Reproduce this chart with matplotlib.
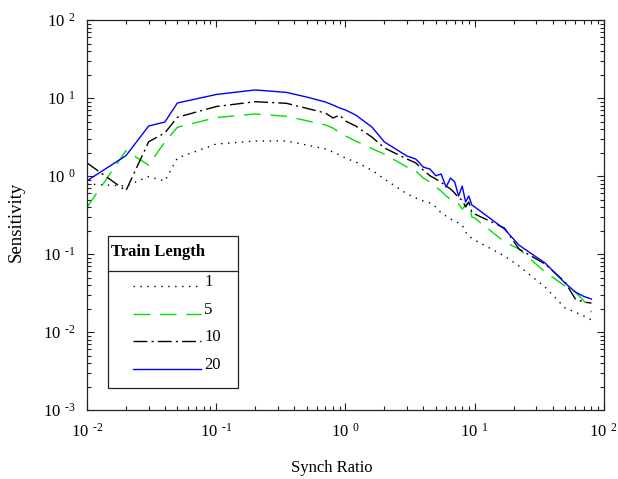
import matplotlib
matplotlib.use("Agg")
import matplotlib.pyplot as plt
from matplotlib.patches import Rectangle
from matplotlib.lines import Line2D
from matplotlib.ticker import LogLocator, FixedLocator, NullFormatter

plt.rcParams['font.family'] = ['Liberation Serif', 'DejaVu Serif']
plt.rcParams['mathtext.fontset'] = 'custom'
plt.rcParams['mathtext.rm'] = 'Liberation Serif'
plt.rcParams['mathtext.it'] = 'Liberation Serif:italic'
plt.rcParams['mathtext.bf'] = 'Liberation Serif:bold'

# ---- data ----
synch_ratio = [0.01, 0.02, 0.03, 0.04, 0.05, 0.1, 0.2, 0.35, 0.5, 0.7, 0.8, 0.9,
               1.0, 1.2, 1.6, 2.0, 3.0, 3.5, 4.0, 4.5, 5.0, 5.5, 6.0, 6.5, 7.0,
               7.5, 8.0, 8.5, 9.0, 9.5, 10, 17, 22, 35, 50, 60, 70, 80]

sens_1 = [0.790, 0.744, 0.985, 0.863, 1.70, 2.57, 2.81, 2.81, 2.50, 2.22, 2.03, 1.86,
          1.70, 1.51, 1.19, 0.915, 0.588, 0.522, 0.478, 0.451, 0.401, 0.336, 0.307,
          0.281, 0.265, 0.250, 0.235, 0.191, 0.170, 0.160, 0.151, 0.0943, 0.0702,
          0.0377, 0.0203, 0.0180, 0.0160, 0.0143]

sens_5 = [0.397, 2.11, 1.38, 2.73, 4.21, 5.62, 6.24, 5.83, 5.12, 4.51, 4.12, 3.61,
          3.26, 2.81, 2.25, 1.91, 1.30, 1.16, 0.943, 0.838, 0.723, 0.642, 0.554,
          0.507, 0.478, 0.438, 0.377, 0.425, 0.464, 0.298, 0.289, 0.143, 0.116,
          0.0588, 0.0389, 0.0326, 0.0250, 0.0180]

sens_10 = [1.47, 0.648, 2.75, 3.56, 5.66, 7.78, 8.97, 8.55, 7.38, 6.42, 5.54, 6.05,
           5.07, 4.38, 3.16, 2.29, 1.65, 1.47, 1.19, 1.01, 0.915, 0.830, 0.744,
           0.681, 0.605, 0.522, 0.492, 0.401, 0.464, 0.345, 0.326, 0.215, 0.116,
           0.0744, 0.0438, 0.0265, 0.0242, 0.0235]

sens_20 = [0.870, 1.82, 4.38, 4.92, 8.63, 11.1, 12.7, 11.8, 10.3, 8.89, 8.13, 7.45,
           7.02, 6.05, 4.25, 2.73, 1.80, 1.65, 1.30, 1.23, 1.01, 1.06, 0.723, 0.943,
           0.838, 0.554, 0.744, 0.464, 0.554, 0.425, 0.401, 0.209, 0.130, 0.0767,
           0.0425, 0.0326, 0.0285, 0.0265]

series_labels = ['1', '5', '10', '20']
series_values = [sens_1, sens_5, sens_10, sens_20]
series_styles = [
    dict(color='black', lw=1.0, dashes=(1, 4)),
    dict(color='#00e000', lw=1.0, dashes=(12, 7)),
    dict(color='black', lw=1.0, dashes=(10, 3, 1.5, 3)),
    dict(color='#0000ff', lw=1.0, linestyle='-'),
]

legend_title = 'Train Length'
x_label = 'Synch Ratio'
y_label = 'Sensitivity'
x_ticks = [1e-2, 1e-1, 1e0, 1e1, 1e2]
y_ticks = [1e-3, 1e-2, 1e-1, 1e0, 1e1, 1e2]
x_exponents = ['-2', '-1', '0', '1', '2']
y_exponents = ['-3', '-2', '-1', '0', '1', '2']


def tick_text(e):
    e = e.replace('-', '\u2010')
    return r'$\mathregular{10^{\ \;' + e + r'}}$'


# ---- figure ----
fig = plt.figure(figsize=(6.18, 4.79), dpi=100)
ax = fig.add_axes([0.1408, 0.144, 0.8365, 0.8142])

lines = []
for vals, lab, st in zip(series_values, series_labels, series_styles):
    ln, = ax.plot(synch_ratio, vals, label=lab, **st)
    lines.append(ln)

ax.set_xscale('log')
ax.set_yscale('log')
ax.set_xlim(1e-2, 1e2)
ax.set_ylim(1e-3, 1e2)

ax.xaxis.set_major_locator(FixedLocator(x_ticks))
ax.yaxis.set_major_locator(FixedLocator(y_ticks))
ax.set_xticklabels([tick_text(e) for e in x_exponents], fontsize=12)
ax.set_yticklabels([tick_text(e) for e in y_exponents], fontsize=12)
ax.xaxis.set_minor_locator(LogLocator(base=10, subs=range(2, 10), numticks=20))
ax.yaxis.set_minor_locator(LogLocator(base=10, subs=range(2, 10), numticks=20))
ax.xaxis.set_minor_formatter(NullFormatter())
ax.yaxis.set_minor_formatter(NullFormatter())

ax.tick_params(which='both', direction='in', top=True, right=True, width=0.8, color='#222222')
ax.tick_params(which='major', length=5)
ax.tick_params(which='minor', length=3)
ax.tick_params(axis='x', which='major', pad=9)
ax.tick_params(axis='y', which='major', pad=8)
for sp in ax.spines.values():
    sp.set_linewidth(0.9)
    sp.set_color('#222222')

ax.set_xlabel(x_label, fontsize=12)
ax.set_ylabel(y_label, fontsize=13.5)
ax.xaxis.set_label_coords(0.474, -0.127)
ax.yaxis.set_label_coords(-0.121, 0.482)

# ---- legend (boxed with title separator) ----
bx0, by0, bw, bh = 0.0406, 0.0564, 0.251, 0.390
ax.add_patch(Rectangle((bx0, by0), bw, bh, transform=ax.transAxes, fill=True,
                       facecolor='white', edgecolor='#222222', lw=0.9, zorder=5))
sep_y = (410 - 271) / 390
ax.add_line(Line2D([bx0, bx0 + bw], [sep_y, sep_y], transform=ax.transAxes,
                   color='#222222', lw=0.9, zorder=6))
ax.text(bx0 + 0.005, (410 - 252) / 390, legend_title, transform=ax.transAxes,
        fontsize=12, fontweight='bold', va='center', ha='left', zorder=6)
entry_y = [(410 - 286) / 390, (410 - 314) / 390, (410 - 341) / 390, (410 - 369) / 390]
hx0 = (133 - 87) / 517
hx1 = (201 - 87) / 517
for ln, lab, st, ey in zip(lines, series_labels, series_styles, entry_y):
    ax.add_line(Line2D([hx0, hx1], [ey, ey], transform=ax.transAxes, zorder=6, **st))
    ax.text((204 - 87) / 517, ey + 0.01, lab, transform=ax.transAxes, fontsize=12,
            va='center', ha='left', zorder=6)

fig.savefig('out.png', dpi=100)
